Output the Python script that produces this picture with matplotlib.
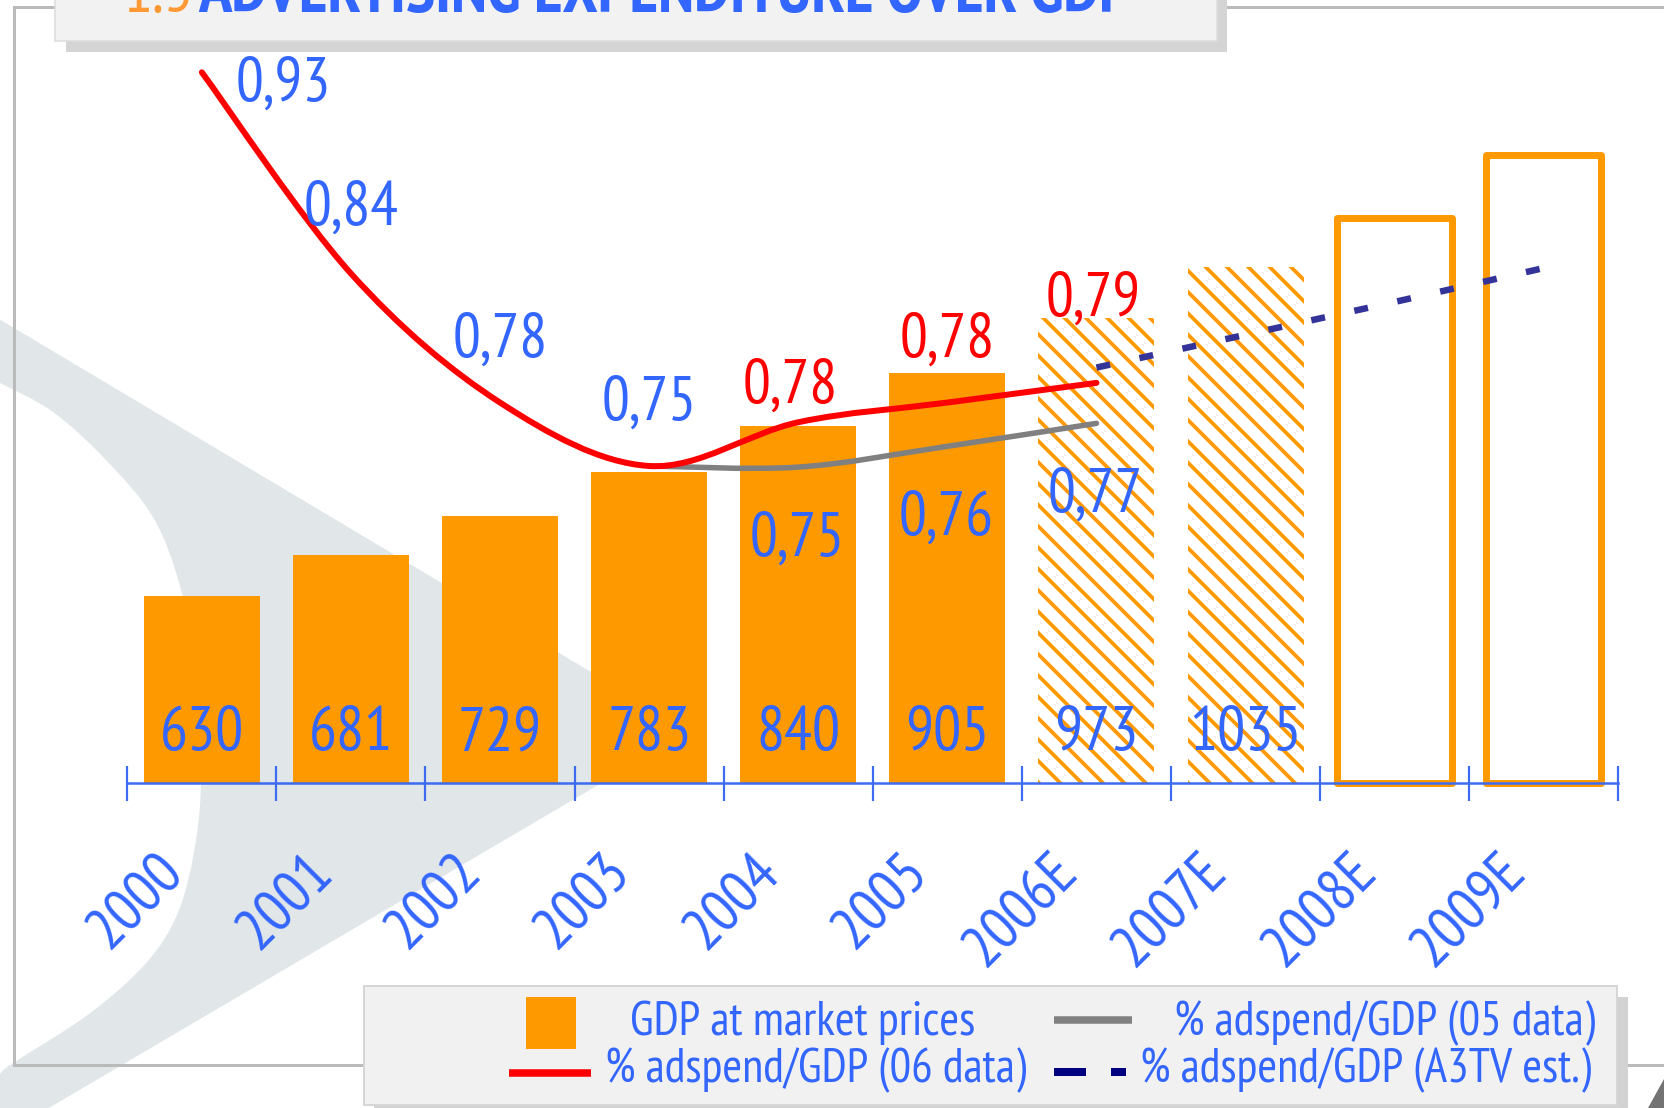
import numpy as np
import matplotlib
matplotlib.use("Agg")
import matplotlib.pyplot as plt
from matplotlib.path import Path
from matplotlib.patches import PathPatch, Rectangle, Polygon
from matplotlib import font_manager

# ---------------- data ----------------
years = ['2000', '2001', '2002', '2003', '2004', '2005', '2006E', '2007E', '2008E', '2009E']
gdp = [630, 681, 729, 783, 840, 905, 973, 1035, 1095, 1173]          # GDP at market prices
gdp_style = ['solid'] * 6 + ['hatch'] * 2 + ['outline'] * 2
gdp_labelled = 8                                                        # first 8 bars carry a value label

adspend06 = [0.93, 0.838, 0.779, 0.75, 0.770, 0.779, 0.788]            # 2000..2006E
adspend06_labels = ['0,93', '0,84', '0,78', '0,75', '0,78', '0,78', '0,79']
adspend06_label_red = [False, False, False, False, True, True, True]

adspend05_start = 3                                                    # starts at 2003
adspend05 = [0.75, 0.7495, 0.759, 0.7695]                              # 2003..2006E
adspend05_labels = ['', '0,75', '0,76', '0,77']

a3tv_start = 6                                                         # starts at 2006E
a3tv = [0.795, 0.810, 0.825, 0.8405]                                   # 2006E..2009E

title_num = '1.5'
title_txt = 'ADVERTISING EXPENDITURE OVER GDP'
legend_labels = ['GDP at market prices', '% adspend/GDP (05 data)',
                 '% adspend/GDP (06 data)', '% adspend/GDP (A3TV est.)']

# ---------------- style ----------------
W, H, DPI = 1664, 1108, 128
PT = 72.0 / DPI
def px(v):
    return v * PT

ORANGE = '#ff9900'
BLUE = '#3366ff'
AXBLUE = '#3d6cf2'
RED = '#ff0000'
GRAY = '#808080'
NAVY = '#333399'
WMARK = '#e1e6e9'

names = {f.name for f in font_manager.fontManager.ttflist}
NARROW = 'DejaVu Sans'
for cand in ['PT Sans Narrow', 'Liberation Sans Narrow', 'Archivo Narrow', 'Roboto Condensed',
             'Fira Sans Condensed', 'IBM Plex Sans Condensed']:
    if cand in names:
        NARROW = cand
        break
plt.rcParams['font.family'] = [NARROW, 'DejaVu Sans']
plt.rcParams['lines.scale_dashes'] = False
plt.rcParams['hatch.linewidth'] = 2.1

fig = plt.figure(figsize=(W / DPI, H / DPI), dpi=DPI)
fig.patch.set_facecolor('white')
renderer = fig.canvas.get_renderer()

def fit(s, target_px, **kw):
    t = fig.text(0, 0, s, fontsize=20, **kw)
    w = t.get_window_extent(renderer=renderer).width
    t.remove()
    return 20.0 * target_px / w

FS_LINE = fit('0,93', 95)
FS_BAR = fit('630', 84)
FS_YEAR = fit('2000', 108)
FS_LEG = fit(legend_labels[1], 422)
FS_TITLE = fit(title_txt, 932, fontweight='bold')

# background/decoration axes in pixel coords
bg = fig.add_axes([0, 0, 1, 1])
bg.set_xlim(0, W)
bg.set_ylim(H, 0)
bg.axis('off')
bg.set_zorder(0)

def smooth(pts):
    verts = [pts[0]]
    codes = [Path.MOVETO]
    n = len(pts)
    for i in range(n - 1):
        p0 = pts[i - 1] if i > 0 else pts[i]
        p1, p2 = pts[i], pts[i + 1]
        p3 = pts[i + 2] if i + 2 < n else pts[i + 1]
        c1 = (p1[0] + (p2[0] - p0[0]) / 6.0, p1[1] + (p2[1] - p0[1]) / 6.0)
        c2 = (p2[0] - (p3[0] - p1[0]) / 6.0, p2[1] - (p3[1] - p1[1]) / 6.0)
        verts += [c1, c2, p2]
        codes += [Path.CURVE4] * 3
    return Path(verts, codes)

# watermark
bg.add_patch(Polygon([(0, 319.6), (690, 731), (48.8, 1108), (0, 1108)], closed=True,
                     facecolor=WMARK, edgecolor='none', zorder=1))
lens = [(0, 383), (53, 412), (106, 460), (153.5, 518), (180, 586), (196, 665), (201, 770),
        (196, 840), (179, 910), (147, 962), (89, 1014), (13, 1063), (0, 1074)]
lp = smooth(lens)
lp = Path(list(lp.vertices) + [(0, 383), (0, 383)], list(lp.codes) + [Path.LINETO, Path.CLOSEPOLY])
bg.add_patch(PathPatch(lp, facecolor='white', edgecolor='none', zorder=2))

# frame
FR = '#bababa'
bg.plot([13.5, 13.5], [6.7, 1065], color=FR, lw=px(3), zorder=3, solid_capstyle='butt')
bg.plot([13.5, W], [6.7, 6.7], color=FR, lw=px(3), zorder=3)
bg.plot([13.5, W], [1065, 1065], color=FR, lw=px(3), zorder=3)
bg.add_patch(Polygon([(1648, 1108), (1664, 1079), (1664, 1108)], closed=True,
                     facecolor='#737373', edgecolor='none', zorder=3))

# title box
bg.add_patch(Rectangle((66, -20), 1227 - 66, 51.7 + 20, facecolor='#d4d4d4', edgecolor='none', zorder=4))
bg.add_patch(Rectangle((55, -20), 1216.5 - 55, 40.7 + 20, facecolor='#f2f2f2', edgecolor='#dcdcdc',
                       lw=px(1.5), zorder=5))
bg.text(157.6, 11.7, title_num, color='#ff9933', fontsize=FS_TITLE, ha='center', va='baseline', zorder=6)
bg.text(664.6, 11.7, title_txt, color=BLUE, fontsize=FS_TITLE, fontweight='bold',
        ha='center', va='baseline', zorder=6)

# legend box
bg.add_patch(Rectangle((374, 997), 1627.7 - 374, 130, facecolor='#d2d2d2', edgecolor='none', zorder=7))
bg.add_patch(Rectangle((364, 986), 1617.4 - 364, 119, facecolor='#f1f1f1', edgecolor='#d6d6d6',
                       lw=px(2), zorder=8))
bg.add_patch(Rectangle((526, 997), 50, 52, facecolor=ORANGE, edgecolor='none', zorder=9))
bg.plot([1054, 1132], [1020, 1020], color=GRAY, lw=px(7.5), solid_capstyle='butt', zorder=9)
bg.plot([509, 590.6], [1072.5, 1072.5], color=RED, lw=px(7.5), solid_capstyle='butt', zorder=9)
bg.plot([1054, 1086], [1072, 1072], color='#000080', lw=px(8), solid_capstyle='butt', zorder=9)
bg.plot([1111, 1126], [1072, 1072], color='#000080', lw=px(8), solid_capstyle='butt', zorder=9)
bg.text(802.5, 1035.4, legend_labels[0], color=BLUE, fontsize=FS_LEG, ha='center', va='baseline', zorder=10)
bg.text(1385.0, 1035.4, legend_labels[1], color=BLUE, fontsize=FS_LEG, ha='center', va='baseline', zorder=10)
bg.text(816.0, 1082.7, legend_labels[2], color=BLUE, fontsize=FS_LEG, ha='center', va='baseline', zorder=10)
bg.text(1365.0, 1082.7, legend_labels[3], color=BLUE, fontsize=FS_LEG, ha='center', va='baseline', zorder=10)

# ---------------- main axes (bars) ----------------
X0, X1, YB, YT = 127.3, 1618.3, 783.2, 40.0
PXU = 0.8127                       # pixels per GDP unit
YMIN = 400
ax = fig.add_axes([X0 / W, (H - YB) / H, (X1 - X0) / W, (YB - YT) / H])
ax.set_zorder(1)
ax.patch.set_visible(False)
ax.set_xlim(-0.5, 9.5)
ax.set_ylim(YMIN, YMIN + (YB - YT) / PXU)
for s in ['top', 'right', 'left']:
    ax.spines[s].set_visible(False)
ax.spines['bottom'].set_color(AXBLUE)
ax.spines['bottom'].set_linewidth(px(2.5))
ax.set_xticks(np.arange(-0.5, 10, 1))
ax.tick_params(axis='x', direction='inout', length=px(35), width=px(2.2), color=AXBLUE, labelbottom=False)
ax.set_yticks([])

x = np.arange(len(years))
g = np.array(gdp, dtype=float)
sty = np.array(gdp_style)
m = sty == 'solid'
ax.bar(x[m], g[m] - YMIN, bottom=YMIN, width=0.778, color=ORANGE, lw=0, zorder=1)
m = sty == 'hatch'
ax.bar(x[m], g[m] - YMIN, bottom=YMIN, width=0.778, facecolor='white', edgecolor=ORANGE,
       lw=0, hatch='\\\\', zorder=1)
m = sty == 'outline'
ax.bar(x[m], g[m] - YMIN, bottom=YMIN, width=0.769, facecolor='none', edgecolor=ORANGE,
       lw=px(7), joinstyle='round', clip_on=False, zorder=1)

for i in range(gdp_labelled):
    ax.annotate(str(gdp[i]), xy=(i, YMIN), xytext=(0, 55), textcoords='offset pixels',
                ha='center', va='center_baseline', color=BLUE, fontsize=FS_BAR, zorder=5)

for i, yl in enumerate(years):
    ax.annotate(yl, xy=(i, YMIN), xytext=(-31, -76), textcoords='offset pixels',
                rotation=45, rotation_mode='anchor', ha='right', va='center_baseline',
                color=BLUE, fontsize=FS_YEAR, annotation_clip=False)

# ---------------- line axes ----------------
V0, Y0, PXV = 0.75, 466.0, 2187.2
ax2 = ax.twinx()
ax2.set_zorder(2)
ax2.patch.set_visible(False)
ax2.set_ylim(V0 - (YB - Y0) / PXV, V0 + (Y0 - YT) / PXV)
ax2.axis('off')

red_pts = list(zip(range(len(adspend06)), adspend06))
ax2.add_patch(PathPatch(smooth(red_pts), facecolor='none', edgecolor=RED, lw=px(6),
                        capstyle='round', transform=ax2.transData, zorder=4))
gray_pts = list(zip(range(adspend05_start, adspend05_start + len(adspend05)), adspend05))
ax2.add_patch(PathPatch(smooth(gray_pts), facecolor='none', edgecolor=GRAY, lw=px(5.5),
                        capstyle='round', transform=ax2.transData, zorder=3))
ax2.plot(range(a3tv_start, a3tv_start + len(a3tv)), a3tv, color=NAVY, lw=px(6.5),
         linestyle=(0, (px(14), px(30))), dash_capstyle='butt', zorder=4)
ax2.set_xlim(-0.5, 9.5)

red_off = [(81, -6.5), (0, 71), (0, 68), (0, 68), (-7.6, 41.7), (0, 68.3), (-2.9, 89)]
for i, (lab, isred) in enumerate(zip(adspend06_labels, adspend06_label_red)):
    ax2.annotate(lab, xy=(i, adspend06[i]), xytext=red_off[i], textcoords='offset pixels',
                 ha='center', va='center_baseline', color=RED if isred else BLUE,
                 fontsize=FS_LINE, zorder=6)
for k, lab in enumerate(adspend05_labels):
    if lab:
        i = adspend05_start + k
        ax2.annotate(lab, xy=(i, adspend05[k]), xytext=(-1, -66.5), textcoords='offset pixels',
                     ha='center', va='center_baseline', color=BLUE, fontsize=FS_LINE, zorder=6)

fig.savefig('out.png', dpi=DPI, facecolor='white')
